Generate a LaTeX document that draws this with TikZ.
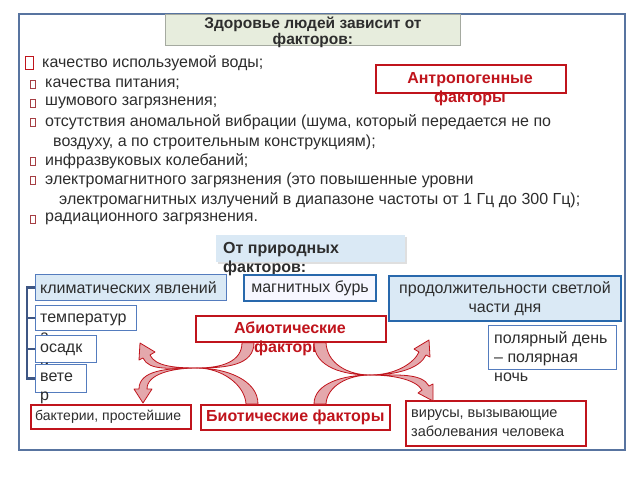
\documentclass[tikz,border=0pt]{standalone}
\usepackage{fontspec}
\setmainfont{Liberation Sans}
\usetikzlibrary{calc}
\usetikzlibrary{positioning}
\usetikzlibrary{shadows}
\definecolor{frame-blue}{RGB}{88,116,160}
\definecolor{title-green}{RGB}{231,237,221}
\definecolor{title-gray}{RGB}{165,170,160}
\definecolor{light-blue}{RGB}{218,233,245}
\definecolor{box-blue}{RGB}{40,104,172}
\definecolor{soft-blue}{RGB}{84,124,190}
\definecolor{custom-red}{RGB}{192,20,28}
\definecolor{band-pink}{RGB}{228,168,172}
\definecolor{bracket-blue}{RGB}{62,86,132}
\definecolor{text-gray}{RGB}{45,45,45}
\tikzset{
  txt/.style={inner sep=0pt, text=text-gray, font=\fontsize{16}{19}\selectfont},
  btxt/.style={inner sep=0pt, text=text-gray, font=\fontsize{16}{19}\selectfont\bfseries},
  rtxt/.style={btxt, text=custom-red},
  bluebox/.style={draw=soft-blue, line width=1.2pt, fill=white, anchor=north west, inner sep=0pt},
  darkbox/.style={draw=box-blue, line width=2pt, anchor=north west, inner sep=0pt},
  redbox/.style={draw=custom-red, line width=1.6pt, fill=white, anchor=north west, inner sep=0pt},
  band/.style={draw=custom-red, line width=0.8pt, fill=band-pink, line join=round},
  bracket/.style={draw=bracket-blue, line width=2.5pt},
  bullet/.style={draw=custom-red!60!gray, line width=0.5pt}
}
\begin{document}
\begin{tikzpicture}[x=1pt, y=-1pt]
  \useasboundingbox (0,0) rectangle (640,480);
  % frame and title
  \draw[frame-blue, line width=1.6pt] (19,14) rectangle (625,450);
  \node[anchor=north west, draw=title-gray, fill=title-green, line width=0.8pt, minimum width=295pt, minimum height=31pt] (title) at (165,14) {};
  \node[btxt, font=\fontsize{15.5}{16}\selectfont\bfseries, align=center] (title-t) at ($(title.center)+(0,2)$) {Здоровье людей зависит от\\факторов:};

  % anthropogenic list
  \draw[custom-red, line width=0.9pt] (25,56) rectangle (33,69);
  \foreach \by in {84,103,122,161,180,219}
    \draw[bullet] (30,\by-4) rectangle (35,\by+4);
  \node[txt, anchor=west] (l1) at (42,63) {качество используемой воды;};
  \node[txt, anchor=west] (l2) at (45,84) {качества питания;};
  \node[txt, anchor=west] (l3) at (45,103) {шумового загрязнения;};
  \node[txt, anchor=west] (l4) at (45,122) {отсутствия аномальной вибрации (шума, который передается не по};
  \node[txt, anchor=west] (l5) at (53,142) {воздуху, а по строительным конструкциям);};
  \node[txt, anchor=west] (l6) at (45,161) {инфразвуковых колебаний;};
  \node[txt, anchor=west] (l7) at (45,180) {электромагнитного загрязнения (это повышенные уровни};
  \node[txt, anchor=west] (l8) at (59,200) {электромагнитных излучений в диапазоне частоты от 1 Гц до 300 Гц);};
  \node[txt, anchor=west] (l9) at (45,219) {радиационного загрязнения.};

  \node[redbox, line width=2pt, minimum width=190pt, minimum height=28pt] (antrop) at (375,64) {};
  \node[rtxt, align=center] (antrop-t) at (470,89) {Антропогенные\\факторы};

  % natural factors
  \node[anchor=north west, fill=light-blue, minimum width=189pt, minimum height=27pt, drop shadow={shadow xshift=2pt, shadow yshift=-2pt, opacity=0.25}] (nature) at (216,235) {};
  \node[btxt, align=left, anchor=west] (nature-t) at (223,259) {От природных\\факторов:};

  \node[bluebox, fill=light-blue, minimum width=191pt, minimum height=26pt] (klim) at (35,274) {};
  \node[txt, anchor=west] (klim-t) at ($(klim.west)+(5,0)$) {климатических явлений};
  \node[darkbox, fill=blue!3, minimum width=132pt, minimum height=26pt] (magn) at (243,274) {};
  \node[txt] (magn-t) at (magn.center) {магнитных бурь};
  \node[darkbox, fill=light-blue, minimum width=232pt, minimum height=45pt] (prod) at (388,275) {};
  \node[txt, align=center] (prod-t) at (prod.center) {продолжительности светлой\\части дня};

  \node[bluebox, minimum width=101pt, minimum height=25pt] (temp) at (35,305) {};
  \node[txt, align=left, anchor=west] (temp-t) at (40,328) {температур\\а};
  \node[bluebox, minimum width=61pt, minimum height=27pt] (osad) at (35,335) {};
  \node[txt, align=left, anchor=west] (osad-t) at (40,358) {осадк\\и};
  \node[bluebox, minimum width=51pt, minimum height=28pt] (veter) at (35,364) {};
  \node[txt, align=left, anchor=west] (veter-t) at (40,388) {вете\\р};
  \draw[bracket] (klim.west) -- ++(-8,0) |- (veter.west);
  \draw[bracket] (temp.west) -- ++(-8,0);
  \draw[bracket] (osad.west) -- ++(-8,0);

  \node[bluebox, minimum width=128pt, minimum height=44pt] (polar) at (488,325) {};
  \node[txt, align=left, anchor=north west] (polar-t) at (494,331) {полярный день\\– полярная\\ночь};

  % abiotic and biotic
  \node[redbox, minimum width=190pt, minimum height=26pt] (abio) at (195,315) {};
  \node[rtxt, align=center] (abio-t) at (290,339) {Абиотические\\факторы};
  \node[redbox, minimum width=160pt, minimum height=24pt] (bact) at (30,404) {};
  \node[txt, font=\fontsize{14}{19}\selectfont, anchor=west] (bact-t) at ($(bact.west)+(5,0)$) {бактерии, простейшие};
  \node[redbox, minimum width=189pt, minimum height=25pt] (bio) at (200,404) {};
  \node[rtxt] (bio-t) at (bio.center) {Биотические факторы};
  \node[redbox, minimum width=180pt, minimum height=45pt] (virus) at (405,400) {};
  \node[txt, font=\fontsize{14.5}{19}\selectfont, align=left, anchor=west] (virus-t) at ($(virus.west)+(6,0)$) {вирусы, вызывающие\\заболевания человека};

  % crossing arrows
  \coordinate (xl) at (197,368);
  \coordinate (xr) at (370,375);
  \coordinate (a-start) at ($(abio.south west)+(53,0)$);
  \coordinate (a-tip) at ($(bact.north west)+(113,-1)$);
  \coordinate (b-start) at ($(bio.north west)+(52,0)$);
  \coordinate (b-tip) at (140,343);
  \coordinate (c-start) at ($(abio.south west)+(125,0)$);
  \coordinate (c-tip) at ($(virus.north west)+(28,1)$);
  \coordinate (d-start) at ($(bio.north west)+(120,0)$);
  \coordinate (d-tip) at (429,340);

  \draw[band] ($(a-start)+(-6,0)$) .. controls +(0,19) and +(25,0) .. (xl) .. controls +(29,0) and +(0,23) .. ($(a-start)+(6,0)$) -- cycle;
  \draw[band] (xl) .. controls +(-25,0) and +(0,-15) .. ($(a-tip)+(4,-14)$) -- ++(5,0) -- (a-tip) -- ++(-9,-14) -- ++(5,0) .. controls +(0,-19) and +(-29,0) .. (xl) -- cycle;

  \draw[band] ($(b-start)+(-6,0)$) .. controls +(-1,-19) and +(25,0) .. (xl) .. controls +(29,0) and +(0,-24) .. ($(b-start)+(6,0)$) -- cycle;
  \draw[band] (xl) .. controls +(-23,0) and +(5,11) .. ($(b-tip)+(10,12)$) -- ($(b-tip)+(15,9)$) -- (b-tip) -- ($(b-tip)+(-1,17)$) -- ($(b-tip)+(3,15)$) .. controls +(6,13) and +(-28,0) .. (xl) -- cycle;

  \draw[band] ($(c-start)+(6,0)$) .. controls +(1,21) and +(-22,0) .. (xr) .. controls +(-26,0) and +(0,25) .. ($(c-start)+(-6,0)$) -- cycle;
  \draw[band] (xr) .. controls +(25,0) and +(-6,-10) .. ($(c-tip)+(-11,-11)$) -- ($(c-tip)+(-15,-8)$) -- (c-tip) -- ($(c-tip)+(0,-17)$) -- ($(c-tip)+(-4,-15)$) .. controls +(-7,-13) and +(28,0) .. (xr) -- cycle;

  \draw[band] ($(d-start)+(6,0)$) .. controls +(1,-18) and +(-22,0) .. (xr) .. controls +(-26,0) and +(0,-21) .. ($(d-start)+(-6,0)$) -- cycle;
  \draw[band] (xr) .. controls +(26,0) and +(-5,11) .. ($(d-tip)+(-10,12)$) -- ($(d-tip)+(-15,9)$) -- (d-tip) -- ($(d-tip)+(1,17)$) -- ($(d-tip)+(-3,15)$) .. controls +(-6,13) and +(28,0) .. (xr) -- cycle;
\end{tikzpicture}
\end{document}
